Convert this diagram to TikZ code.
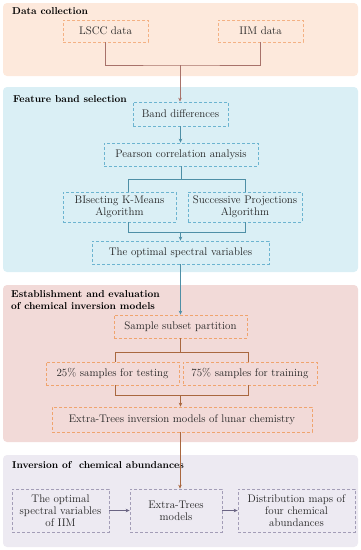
\documentclass[tikz,border=0pt]{standalone}
\usetikzlibrary{arrows.meta}
\definecolor{pafill}{HTML}{FDE9DC}
\definecolor{pabox}{HTML}{F4B183}
\definecolor{paline}{HTML}{A8726A}
\definecolor{pbfill}{HTML}{DAEFF5}
\definecolor{pbbox}{HTML}{6CB4D0}
\definecolor{pbline}{HTML}{4E8FA6}
\definecolor{pcfill}{HTML}{F2DAD8}
\definecolor{pcbox}{HTML}{F0A46E}
\definecolor{pcline}{HTML}{A9673F}
\definecolor{pdfill}{HTML}{EDEAF2}
\definecolor{pdbox}{HTML}{A39DB7}
\definecolor{pdline}{HTML}{6A6483}
\definecolor{txt}{HTML}{222222}
\tikzset{
  boxbase/.style={draw, dash pattern=on 3pt off 2pt, line width=0.7pt, text=txt, align=center, inner sep=0pt,
    font=\fontsize{11}{13}\selectfont},
  boxa/.style={boxbase, draw=pabox},
  boxb/.style={boxbase, draw=pbbox},
  boxc/.style={boxbase, draw=pcbox},
  boxd/.style={boxbase, draw=pdbox},
  ttl/.style={anchor=north west, inner sep=0pt, text=black, align=left, font=\fontsize{10}{12.5}\selectfont\bfseries},
  conn/.style={line width=0.7pt},
  tip/.style={conn, -{Stealth[length=4pt,width=3.5pt]}},
}
\begin{document}
\begin{tikzpicture}[x=1pt,y=-1pt]
\useasboundingbox (0,0) rectangle (361,550);
% panels
\fill[pafill, rounded corners=4pt] (3,3) rectangle (358,76);
\fill[pbfill, rounded corners=4pt] (3,87) rectangle (358,272);
\fill[pcfill, rounded corners=4pt] (3,285) rectangle (358,442);
\fill[pdfill, rounded corners=4pt] (3,455) rectangle (358,547);
% titles
\node[ttl] (t1) at (12,7) {Data collection};
\node[ttl] (t2) at (13,95) {Feature band selection};
\node[ttl] (t3) at (11,290) {Establishment and evaluation\\ of chemical inversion models};
\node[ttl] (t4) at (12,461) {Inversion of\ \ chemical abundances};
% panel 1
\node[boxa, minimum width=85pt, minimum height=22pt] (lscc) at (105.5,31) {LSCC data};
\node[boxa, minimum width=85pt, minimum height=22pt] (iim) at (260.5,31) {IIM data};
% panel 2
\node[boxb, minimum width=95pt, minimum height=24pt] (band) at (180.5,114) {Band differences};
\node[boxb, minimum width=154pt, minimum height=23pt] (pear) at (181,154.5) {Pearson correlation analysis};
\node[boxb, minimum width=113pt, minimum height=30pt] (bis) at (119.5,207) {BIsecting K-Means\\[-1pt] Algorithm};
\node[boxb, minimum width=114pt, minimum height=30pt] (suc) at (245,207) {Successive Projections\\[-1pt] Algorithm};
\node[boxb, minimum width=177pt, minimum height=23pt] (opt) at (180.5,252.5) {The optimal spectral variables};
% panel 3
\node[boxc, minimum width=133pt, minimum height=23pt] (samp) at (180.5,326.5) {Sample subset partition};
\node[boxc, minimum width=133pt, minimum height=23pt] (test) at (112.5,373.5) {25\% samples for testing};
\node[boxc, minimum width=134pt, minimum height=23pt] (train) at (250,373.5) {75\% samples for training};
\node[boxc, minimum width=260pt, minimum height=25pt] (ext) at (182,419.5) {Extra-Trees inversion models of lunar chemistry};
% panel 4
\node[boxd, minimum width=97pt, minimum height=43pt] (oiim) at (60.5,510.5) {The optimal\\[-1pt] spectral variables\\[-1pt] of IIM};
\node[boxd, minimum width=92pt, minimum height=43pt] (etm) at (176,510.5) {Extra-Trees\\[-1pt] models};
\node[boxd, minimum width=117pt, minimum height=43pt] (dist) at (296.5,510.5) {Distribution maps of\\[-1pt] four chemical\\[-1pt] abundances};
% connectors panel 1
\coordinate (m1) at (180,65);
\draw[conn, paline] (lscc.south) |- (m1) -| (iim.south);
\draw[tip, paline] (m1) -- (m1 |- band.north);
% panel 2
\draw[tip, pbline] (band.south) -- (band.south |- pear.north);
\coordinate (bl) at (128,179);
\coordinate (br) at (245,179);
\draw[conn, pbline] (pear.south) -- (pear.south |- bl);
\draw[conn, pbline] (bl |- bis.north) -- (bl) -- (br) -- (br |- suc.north);
\coordinate (ml) at (128,232);
\coordinate (mr) at (245,232);
\draw[conn, pbline] (ml |- bis.south) -- (ml) -- (mr) -- (mr |- suc.south);
\coordinate (mm) at (180.5,232);
\draw[tip, pbline] (mm) -- (mm |- opt.north);
\draw[tip, pbline] (opt.south) -- (opt.south |- samp.north);
% panel 3
\coordinate (cl) at (115,352);
\coordinate (cr) at (248,352);
\draw[conn, pcline] (samp.south) -- (samp.south |- cl);
\draw[conn, pcline] (cl |- test.north) -- (cl) -- (cr) -- (cr |- train.north);
\coordinate (dl) at (115,395);
\coordinate (dr) at (248,395);
\draw[conn, pcline] (dl |- test.south) -- (dl) -- (dr) -- (dr |- train.south);
\coordinate (dm) at (180.5,395);
\draw[tip, pcline] (dm) -- (dm |- ext.north);
\coordinate (em) at (180,432);
\draw[tip, pcline] (em |- ext.south) -- (em |- etm.north);
% panel 4
\draw[tip, pdline] (oiim.east) -- (etm.west);
\draw[tip, pdline] (etm.east) -- (dist.west);
\end{tikzpicture}
\end{document}
